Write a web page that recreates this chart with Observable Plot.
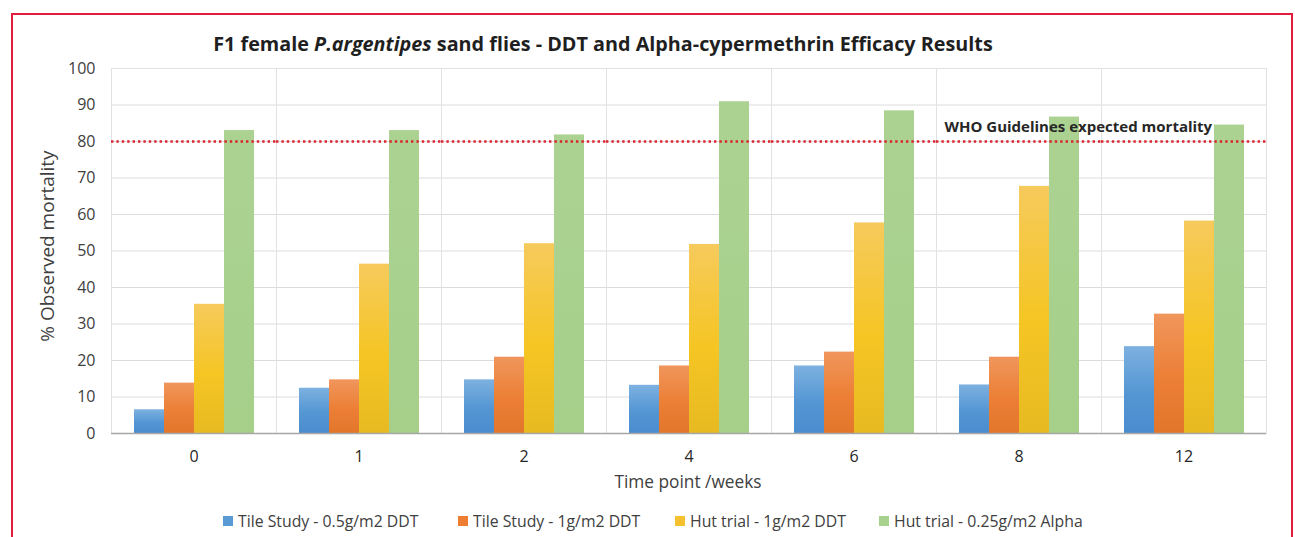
<!DOCTYPE html>
<html>
<head>
<meta charset="utf-8">
<script src="https://cdn.jsdelivr.net/npm/d3@7"></script>
<script src="https://cdn.jsdelivr.net/npm/@observablehq/plot@0.6"></script>
<style>
  body { margin: 0; background: #fff; }
  #wrap { position: relative; width: 1295px; height: 537px; overflow: hidden; background: #fff; font-family: "Open Sans", sans-serif; }
  #frameBorder { position: absolute; left: 11px; top: 13px; width: 1278px; height: 600px; border: 2px solid #e31b3d; }
  #chart { position: absolute; left: 0; top: 0; }
  .title { position: absolute; left: 0; width: 1206px; top: 30px; text-align: center; font-weight: bold; font-size: 19.8px; color: #1f1f1f; white-space: nowrap; }
  .ytitle { position: absolute; left: 47px; top: 246px; transform: translate(-50%, -50%) rotate(-90deg); font-size: 19px; color: #404040; white-space: nowrap; }
  .xtitle { position: absolute; left: 688px; top: 481px; transform: translate(-50%, -50%); font-size: 17.3px; color: #404040; white-space: nowrap; }
  .legItem { position: absolute; top: 511px; height: 20px; display: flex; align-items: center; font-size: 15.8px; color: #404040; white-space: nowrap; }
  .sw { width: 10px; height: 10px; margin-right: 5px; display: inline-block; }
</style>
</head>
<body>
<div id="wrap">
  <div id="frameBorder"></div>
  <div class="title">F1 female <i>P.argentipes</i> sand flies - DDT and Alpha-cypermethrin Efficacy Results</div>
  <div id="chart"></div>
  <div class="ytitle">% Observed mortality</div>
  <div class="xtitle">Time point /weeks</div>
  <div id="legend"></div>
</div>
<script>
// ---- data ----
const weeks = ["0", "1", "2", "4", "6", "8", "12"];
const seriesNames = [
  "Tile Study - 0.5g/m2 DDT",
  "Tile Study - 1g/m2 DDT",
  "Hut trial - 1g/m2 DDT",
  "Hut trial - 0.25g/m2 Alpha"
];
const tile05DDT = [6.5, 12.4, 14.7, 13.2, 18.5, 13.3, 23.8];
const tile1DDT = [13.8, 14.7, 20.9, 18.5, 22.3, 20.9, 32.7];
const hut1DDT = [35.4, 46.4, 52.0, 51.8, 57.7, 67.7, 58.2];
const hutAlpha = [83.0, 83.0, 81.8, 90.9, 88.4, 86.7, 84.5];
const whoThreshold = 80;
const whoLabel = "WHO Guidelines expected mortality";
const yTicks = [0, 10, 20, 30, 40, 50, 60, 70, 80, 90, 100];
const seriesColors = ["#5b9bd5", "#ed7d31", "#f5c12e", "#a9d18e"];
const gradientStops = [
  ["#7db1e0", "#5496d3", "#4a8dcf"],
  ["#f0965c", "#ec7f35", "#e2762b"],
  ["#f6ca5c", "#f5c523", "#e7ba22"],
  ["#acd292", "#a9d18e", "#a6cf8a"]
];
const legendX = [223, 458, 675, 879];

// ---- build table ----
const allSeries = [tile05DDT, tile1DDT, hut1DDT, hutAlpha];
const rows = [];
weeks.forEach((w, i) => {
  seriesNames.forEach((s, j) => rows.push({week: w, series: s, value: allSeries[j][i]}));
});
const gradIds = seriesNames.map((_, j) => "grad" + j);

const chart = Plot.plot({
  width: 1295,
  height: 537,
  marginLeft: 108,
  marginRight: 27,
  marginTop: 68,
  marginBottom: 104,
  style: {fontFamily: "Open Sans, sans-serif", background: "transparent", overflow: "visible"},
  fx: {domain: weeks, padding: 0, label: null},
  x: {domain: seriesNames, axis: null, paddingInner: 0, paddingOuter: 0.72},
  y: {domain: [0, 100], axis: null},
  color: {domain: seriesNames, range: gradIds.map(id => `url(#${id})`)},
  marks: [
    Plot.gridY(yTicks, {stroke: "#dcdcdc", strokeOpacity: 1}),
    Plot.frame({stroke: "#e2e2e2", strokeOpacity: 1}),
    Plot.barY(rows, {fx: "week", x: "series", y: "value", fill: "series"}),
    Plot.ruleY([0], {stroke: "#a6a6a6", strokeWidth: 1.5}),
    Plot.axisY(yTicks, {tickSize: 0, tickPadding: 16, fontSize: 16, fill: "#404040", label: null}),
    Plot.axisFx({anchor: "bottom", tickSize: 0, tickPadding: 17, fontSize: 16, fill: "#262626", label: null}),
    Plot.ruleY([whoThreshold], {stroke: "#d9232e", strokeWidth: 2.5, strokeDasharray: "2.4,3"}),
    Plot.text([{week: "12", v: whoThreshold, label: whoLabel}], {
      fx: "week", y: "v", text: "label", frameAnchor: "left", textAnchor: "start",
      dx: -157, dy: -14, fontWeight: "bold", fontSize: 15, fill: "#262626"
    })
  ]
});

// gradient definitions for the bar fills
const ns = "http://www.w3.org/2000/svg";
const defs = document.createElementNS(ns, "defs");
gradIds.forEach((id, j) => {
  const g = document.createElementNS(ns, "linearGradient");
  g.setAttribute("id", id);
  g.setAttribute("x1", "0"); g.setAttribute("y1", "0");
  g.setAttribute("x2", "0"); g.setAttribute("y2", "1");
  gradientStops[j].forEach((c, k) => {
    const st = document.createElementNS(ns, "stop");
    st.setAttribute("offset", ["0%", "55%", "100%"][k]);
    st.setAttribute("stop-color", c);
    g.appendChild(st);
  });
  defs.appendChild(g);
});
chart.insertBefore(defs, chart.firstChild);
document.getElementById("chart").appendChild(chart);

// legend
const legend = document.getElementById("legend");
seriesNames.forEach((s, j) => {
  const item = document.createElement("div");
  item.className = "legItem";
  item.style.left = legendX[j] + "px";
  const sw = document.createElement("span");
  sw.className = "sw";
  sw.style.background = seriesColors[j];
  item.appendChild(sw);
  item.appendChild(document.createTextNode(s));
  legend.appendChild(item);
});
</script>
</body>
</html>
